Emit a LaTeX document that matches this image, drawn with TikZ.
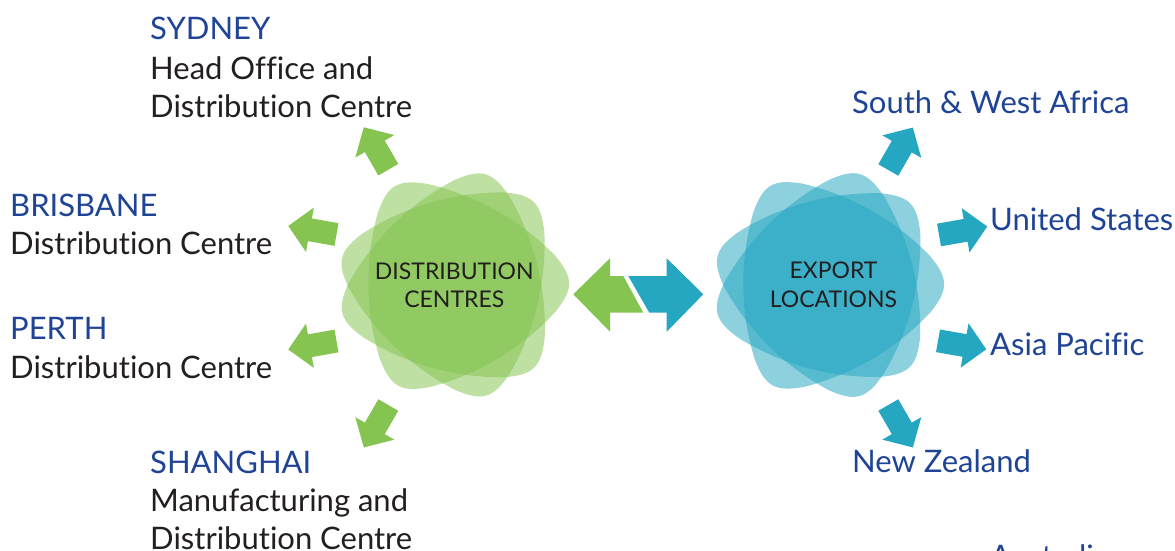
\documentclass[tikz,border=0pt]{standalone}
\usepackage{fontspec}
\setmainfont{Lato}[Ligatures=NoCommon]
\definecolor{hblue}{RGB}{31,68,150}
\definecolor{dtext}{RGB}{35,31,32}
\definecolor{gr}{RGB}{133,196,80}
\definecolor{bl}{RGB}{37,167,194}
\newcommand\RTri[4]{%
  \begin{scope}[shift={(#1,#2)},rotate=#3,scale=1.02]
    \fill[#4] (-15.63:102.94) .. controls (-2.71:117.56) and (2.71:117.56) .. (15.63:102.94)
      .. controls (44.03:90.96) and (75.97:90.96) .. (104.37:102.94)
      .. controls (117.29:117.56) and (122.71:117.56) .. (135.63:102.94)
      .. controls (164.03:90.96) and (195.97:90.96) .. (224.37:102.94)
      .. controls (237.29:117.56) and (242.71:117.56) .. (255.63:102.94)
      .. controls (284.03:90.96) and (315.97:90.96) .. (344.37:102.94) -- cycle;
  \end{scope}}
\newcommand\SArrow[4]{%
  \begin{scope}[shift={(#1,#2)},rotate=#3]
    \fill[#4] (0,-11.5) -- (27,-11.5) -- (27,-22.5) -- (49,0) -- (27,22.5) -- (27,11.5) -- (0,11.5) -- cycle;
  \end{scope}}
\begin{document}
\begin{tikzpicture}[x=1pt,y=1pt,
  hdr/.style={anchor=base west, inner sep=0pt, text=hblue, font=\fontsize{31}{38}\selectfont},
  body/.style={anchor=base west, inner sep=0pt, text=dtext, font=\fontsize{31}{38}\selectfont},
  ctr/.style={anchor=base, inner sep=0pt, text=dtext, font=\fontsize{23}{28}\selectfont},
  gpetal/.style={fill=gr, fill opacity=0.52},
  bpetal/.style={fill=bl, fill opacity=0.52},
  garr/.style={fill=gr},
  barr/.style={fill=bl}]
\useasboundingbox (0,0) rectangle (1175,-551);
\fill[white] (0,0) rectangle (1175,-551);

% flowers
\RTri{454}{-285}{46.3}{gpetal}
\RTri{454}{-285}{0.9}{gpetal}
\RTri{454}{-285}{74.1}{gpetal}
\RTri{829}{-285}{45.3}{bpetal}
\RTri{829}{-285}{0.5}{bpetal}
\RTri{829}{-285}{74.5}{bpetal}

% small arrows, green
\SArrow{388.3}{-169.7}{120}{garr}
\SArrow{336.5}{-234.5}{170}{garr}
\SArrow{336.5}{-341}{190}{garr}
\SArrow{388.3}{-405}{240}{garr}
% small arrows, blue
\SArrow{888.3}{-170}{60}{barr}
\SArrow{939}{-235}{10}{barr}
\SArrow{938}{-340.8}{-10}{barr}
\SArrow{888.3}{-405}{-60}{barr}

% double arrow
\fill[gr] (573.3,-294.3) -- (610,-258.3) -- (610,-276) -- (623.3,-276) -- (643.3,-312.7) -- (610,-312.7) -- (610,-331.7) -- cycle;
\fill[bl] (703.3,-294.3) -- (666.7,-258.3) -- (666.7,-276) -- (628.3,-276) -- (649.3,-312.7) -- (666.7,-312.7) -- (666.7,-331.7) -- cycle;

% centre texts
\node[ctr] (dc1) at (454.3,-279) {DISTRIBUTION};
\node[ctr] (dc2) at (454.3,-307) {CENTRES};
\node[ctr] (el1) at (833.5,-278) {EXPORT};
\node[ctr] (el2) at (833.5,-307) {LOCATIONS};

% left labels
\node[hdr]  (syd)  at (150,-40)  {SYDNEY};
\node[body] (syd2) at (150,-79)  {Head Office and};
\node[body] (syd3) at (150,-117) {Distribution Centre};
\node[hdr]  (bri)  at (10,-216)  {BRISBANE};
\node[body] (bri2) at (10,-254)  {Distribution Centre};
\node[hdr]  (per)  at (10,-339)  {PERTH};
\node[body] (per2) at (10,-378)  {Distribution Centre};
\node[hdr]  (sha)  at (150,-473) {SHANGHAI};
\node[body] (sha2) at (150,-511) {Manufacturing and};
\node[body] (sha3) at (150,-549) {Distribution Centre};

% right labels
\node[hdr] (swa) at (852,-113) {South \& West Africa};
\node[hdr] (usa) at (990,-230) {United States};
\node[hdr] (asp) at (990,-355) {Asia Pacific};
\node[hdr] (nzl) at (852,-472) {New Zealand};
\node[hdr] (aus) at (990,-567) {Australia};
\end{tikzpicture}
\end{document}
